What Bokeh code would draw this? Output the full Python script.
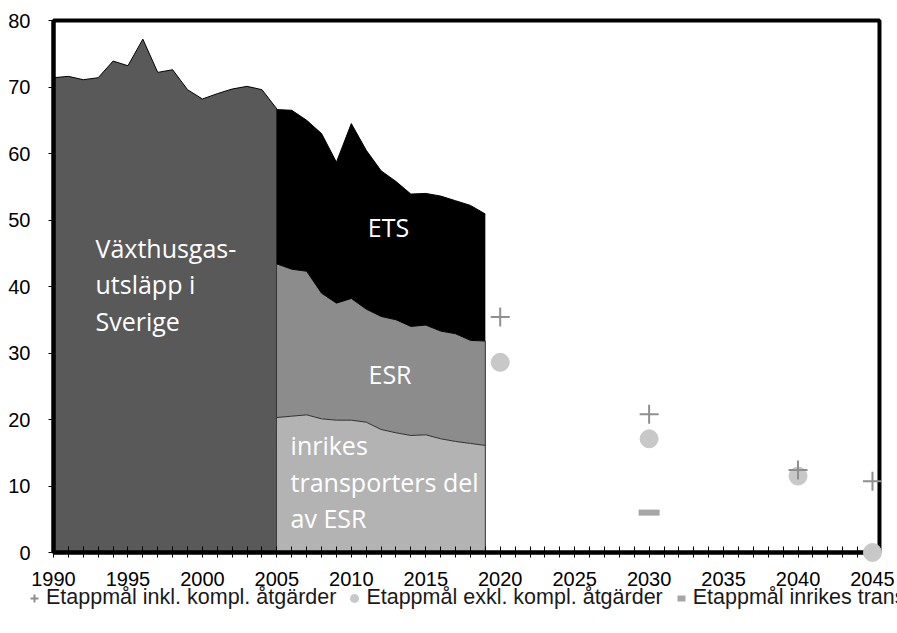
from bokeh.plotting import figure
from bokeh.models import (ColumnDataSource, Range1d, FixedTicker, Legend, LegendItem,
                          BoxAnnotation)
from bokeh.core.properties import value
from bokeh.embed import file_html
from bokeh.resources import INLINE

# ---- data ----
hist_years = list(range(1990, 2006))
hist_total = [71.4, 71.6, 71.1, 71.4, 73.9, 73.2, 77.2, 72.2, 72.6, 69.6,
              68.2, 69.0, 69.7, 70.1, 69.6, 66.7]

split_years = list(range(2005, 2020))
transport = [20.3, 20.5, 20.7, 20.1, 19.9, 19.9, 19.6, 18.5, 18.0, 17.6,
             17.7, 17.1, 16.7, 16.4, 16.1]
esr_other = [23.1, 22.1, 21.6, 18.9, 17.6, 18.3, 17.0, 17.0, 17.0, 16.4,
             16.5, 16.2, 16.2, 15.5, 15.7]
ets = [23.2, 23.9, 22.7, 24.0, 21.2, 26.3, 23.9, 21.9, 20.8, 19.9,
       19.8, 20.3, 20.0, 20.3, 19.1]

target_years = [2020, 2030, 2040, 2045]
target_inkl = [35.4, 20.8, 12.4, 10.7]
target_exkl = [28.6, 17.1, 11.5, 0.0]
transport_target_years = [2030]
transport_target = [6.0]

legend_labels = ["Etappmål inkl. kompl. åtgärder",
                 "Etappmål exkl. kompl. åtgärder",
                 "Etappmål inrikes transporter"]
x_ticks = list(range(1990, 2046))
y_ticks = list(range(0, 81, 10))

X0, X1 = 1990, 2045.47   # plotted box
Y0, Y1 = 0, 80

# ---- figure (frame covers whole canvas, axes at fixed locations) ----
p = figure(width=897, height=633, output_backend="svg", toolbar_location=None,
           x_range=Range1d(1986.44, 2046.68), y_range=Range1d(-12.18, 83.01),
           min_border=0)
p.xgrid.visible = False
p.ygrid.visible = False
p.outline_line_color = None
p.background_fill_color = "white"
p.border_fill_color = "white"

# historical area
p.varea(x=hist_years, y1=[0] * len(hist_years), y2=hist_total, fill_color="#595959")
p.line(hist_years, hist_total, line_color="black", line_width=1)
p.segment(x0=[hist_years[-1]], y0=[0], x1=[hist_years[-1]], y1=[hist_total[-1]],
          line_color="black", line_width=1)

# stacked split area
src = ColumnDataSource(dict(year=split_years, transport=transport,
                            esr=esr_other, ets=ets))
stackers = ["transport", "esr", "ets"]
p.varea_stack(stackers, x="year", color=["#b3b3b3", "#8c8c8c", "#000000"], source=src)
p.vline_stack(stackers, x="year", color=["#303030", "#000000", "#000000"],
              line_width=1, source=src)
last_esr_top = transport[-1] + esr_other[-1]
p.segment(x0=[split_years[-1]], y0=[0], x1=[split_years[-1]], y1=[last_esr_top],
          line_color="#303030", line_width=1)

# area labels
font = value("Open Sans")
p.text(x=[1992.82], y=[48.4], text=["Växthusgas-\nutsläpp i\nSverige"],
       text_font=font, text_font_size="25px", text_color="white",
       text_align="left", text_baseline="top", text_line_height=1.08)
p.text(x=[2012.5, 2012.6], y=[48.9, 26.8], text=["ETS", "ESR"],
       text_font=font, text_font_size="25px", text_color="white",
       text_align="center", text_baseline="middle")
p.text(x=[2005.92], y=[18.75], text=["inrikes\ntransporters del\nav ESR"],
       text_font=font, text_font_size="25px", text_color="white",
       text_align="left", text_baseline="top", text_line_height=1.08)

# frame box
p.add_layout(BoxAnnotation(left=X0, right=X1, bottom=Y0, top=Y1, fill_alpha=0,
                           line_color="black", line_width=4, line_alpha=1))

# targets (drawn above axes)
r_exkl = p.scatter(x=target_years, y=target_exkl, marker="circle", size=18,
                   fill_color="#c8c8c8", line_color="#c8c8c8", level="overlay")
r_tr = p.scatter(x=transport_target_years, y=transport_target, marker="dash",
                 size=21, line_width=6, line_color="#a6a6a6", level="overlay")
r_inkl = p.scatter(x=target_years, y=target_inkl, marker="cross", size=19,
                   line_width=2, line_color="#8f8f8f", level="overlay")

# axes
xa = p.xaxis[0]
xa.fixed_location = Y0
xa.bounds = (X0, X1)
xa.ticker = FixedTicker(ticks=x_ticks, minor_ticks=[])
xa.major_label_overrides = {t: "" for t in x_ticks if t % 5}
xa.axis_line_width = 4
xa.axis_line_color = "black"
xa.major_tick_in = 6
xa.major_tick_out = 5
xa.major_tick_line_color = "black"
xa.minor_tick_in = 0
xa.minor_tick_out = 0
xa.major_label_text_font = "Liberation Sans"
xa.major_label_text_font_size = "20px"
xa.major_label_text_color = "black"
xa.major_label_standoff = 14

ya = p.yaxis[0]
ya.fixed_location = X0
ya.bounds = (Y0, Y1)
ya.ticker = FixedTicker(ticks=y_ticks, minor_ticks=[])
ya.axis_line_width = 4
ya.axis_line_color = "black"
ya.major_tick_in = 0
ya.major_tick_out = 5
ya.major_tick_line_color = "black"
ya.minor_tick_in = 0
ya.minor_tick_out = 0
ya.major_label_text_font = "Liberation Sans"
ya.major_label_text_font_size = "20px"
ya.major_label_text_color = "black"
ya.major_label_standoff = 18

legend = Legend(items=[LegendItem(label=legend_labels[0], renderers=[r_inkl]),
                       LegendItem(label=legend_labels[1], renderers=[r_exkl]),
                       LegendItem(label=legend_labels[2], renderers=[r_tr])],
                orientation="horizontal", location=(24, 23),
                glyph_width=20, glyph_height=22, label_standoff=2, spacing=8,
                padding=0, margin=0, border_line_alpha=0, background_fill_alpha=0,
                label_text_font="Liberation Sans", label_text_font_size="21.5px",
                label_text_color="#1a1a1a")
p.add_layout(legend)

open("out.html", "w").write(file_html(p, INLINE))
